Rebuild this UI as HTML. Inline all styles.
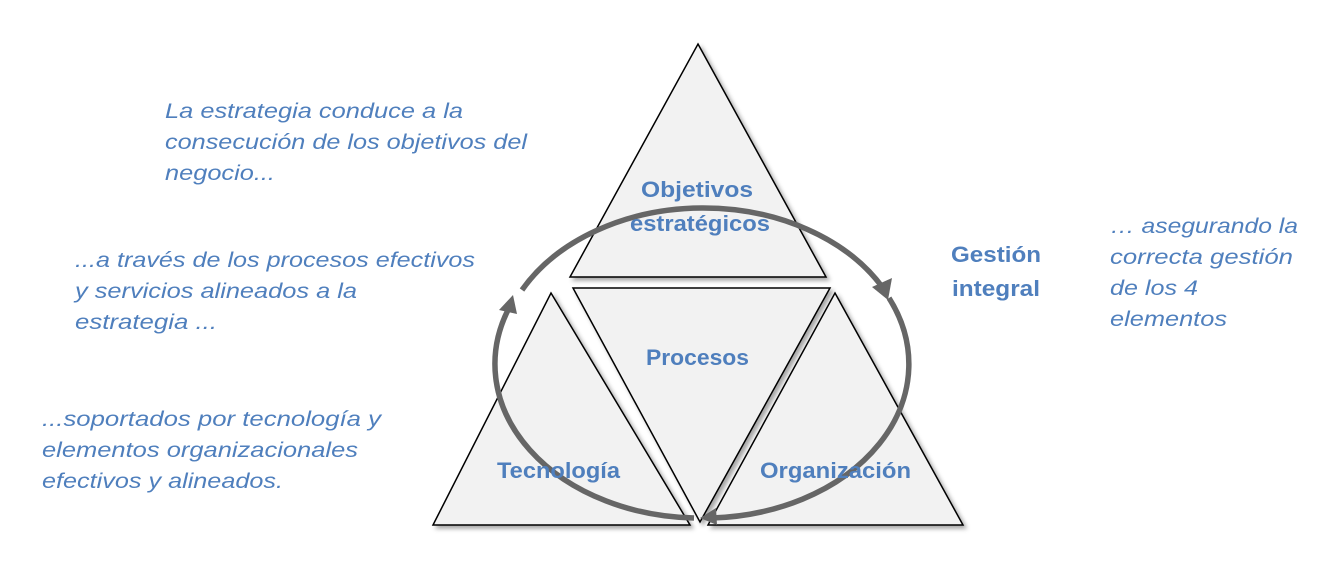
<!DOCTYPE html>
<html><head><meta charset="utf-8"><style>html,body{margin:0;padding:0;background:#fff;width:1338px;height:570px;overflow:hidden}</style></head>
<body>
<svg width="1338" height="570" viewBox="0 0 1338 570" xmlns="http://www.w3.org/2000/svg">
<defs><filter id="sh" x="-10%" y="-10%" width="130%" height="130%"><feDropShadow dx="3" dy="3" stdDeviation="2" flood-color="#000" flood-opacity="0.35"/></filter></defs>
<g fill="#f2f2f2" stroke="#000" stroke-width="1.5" filter="url(#sh)">
<polygon points="698,44 826,277 570,277"/>
<polygon points="573,288 830,288 700,522"/>
<polygon points="551,293 690,525 433,525"/>
<polygon points="835,293 963,525 708,525"/>
</g>
<g fill="none" stroke="#666" stroke-width="5.5">
<path d="M522,290 A205,154 0 0 1 883,288"/>
<path d="M889,298 A205,154 0 0 1 712,518"/>
<path d="M694,518 A205,154 0 0 1 508,310"/>
</g>
<g fill="#666">
<polygon points="888,300 872,287 892,278"/>
<polygon points="700,518 716,508 717,525"/>
<polygon points="513,295 517,314 499,310"/>
</g>
<g font-family="Liberation Sans, sans-serif" font-weight="bold" font-size="22" fill="#4f7fbd">
<text x="641" y="197" textLength="112" lengthAdjust="spacingAndGlyphs">Objetivos</text>
<text x="630" y="231" textLength="140" lengthAdjust="spacingAndGlyphs">estratégicos</text>
<text x="646" y="365" textLength="103" lengthAdjust="spacingAndGlyphs">Procesos</text>
<text x="497" y="478" textLength="123" lengthAdjust="spacingAndGlyphs">Tecnología</text>
<text x="760" y="478" textLength="151" lengthAdjust="spacingAndGlyphs">Organización</text>
<text x="951" y="262" textLength="90" lengthAdjust="spacingAndGlyphs">Gestión</text>
<text x="952" y="296" textLength="88" lengthAdjust="spacingAndGlyphs">integral</text>
</g>
<g font-family="Liberation Sans, sans-serif" font-style="italic" font-size="21" fill="#4f7fbd">
<text x="165" y="118" textLength="298" lengthAdjust="spacingAndGlyphs">La estrategia conduce a la</text>
<text x="165" y="149" textLength="362" lengthAdjust="spacingAndGlyphs">consecución de los objetivos del</text>
<text x="165" y="180" textLength="110" lengthAdjust="spacingAndGlyphs">negocio...</text>
<text x="75" y="267" textLength="400" lengthAdjust="spacingAndGlyphs">...a través de los procesos efectivos</text>
<text x="75" y="298" textLength="282" lengthAdjust="spacingAndGlyphs">y servicios alineados a la</text>
<text x="75" y="329" textLength="142" lengthAdjust="spacingAndGlyphs">estrategia ...</text>
<text x="42" y="426" textLength="339" lengthAdjust="spacingAndGlyphs">...soportados por tecnología y</text>
<text x="42" y="457" textLength="316" lengthAdjust="spacingAndGlyphs">elementos organizacionales</text>
<text x="42" y="488" textLength="241" lengthAdjust="spacingAndGlyphs">efectivos y alineados.</text>
<text x="1110" y="233" textLength="188" lengthAdjust="spacingAndGlyphs">… asegurando la</text>
<text x="1110" y="264" textLength="183" lengthAdjust="spacingAndGlyphs">correcta gestión</text>
<text x="1110" y="295" textLength="88" lengthAdjust="spacingAndGlyphs">de los 4</text>
<text x="1110" y="326" textLength="117" lengthAdjust="spacingAndGlyphs">elementos</text>
</g>
</svg>
</body></html>
